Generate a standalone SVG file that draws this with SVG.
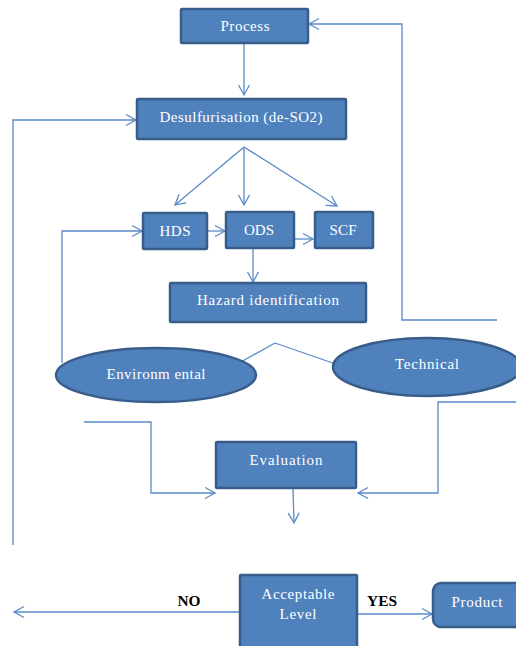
<svg xmlns="http://www.w3.org/2000/svg" width="516" height="646" viewBox="0 0 516 646">
<style>
.box{fill:#4F81BD;stroke:#385D8A;stroke-width:2.5}
.lbl{font-family:"Liberation Serif","Times New Roman",serif;font-size:15px;fill:#fff;text-anchor:middle}
.blk{font-family:"Liberation Serif","Times New Roman",serif;font-size:14px;font-weight:bold;fill:#000;text-anchor:middle}
.c{fill:none;stroke:#5A8AC9;stroke-width:1.3}
.a{marker-end:url(#ar)}
</style>
<defs>
<marker id="ar" markerUnits="userSpaceOnUse" markerWidth="14" markerHeight="14" viewBox="0 0 14 14" refX="11" refY="7" orient="auto">
<path d="M1,1.5 L11,7 L1,12.5" fill="none" stroke="#5A8AC9" stroke-width="1.3"/>
</marker>
</defs>
<rect width="516" height="646" fill="#fff"/>
<g id="connectors">
<path class="c a" d="M244,43 V95"/>
<path class="c a" d="M13,545 V120 H136"/>
<path class="c a" d="M497,320 H402 V24 H309"/>
<path class="c a" d="M244,147 L175,205"/>
<path class="c a" d="M244,147 V205"/>
<path class="c a" d="M244,147 L337,206"/>
<path class="c a" d="M207,231 H225"/>
<path class="c a" d="M294,239 H313"/>
<path class="c a" d="M253,248 V282"/>
<path class="c a" d="M62,363 V231 H142"/>
<path class="c a" d="M275,343 L214,377"/>
<path class="c a" d="M275,343 L353,370"/>
<path class="c a" d="M84,422 H151 V493 H215"/>
<path class="c a" d="M516,402 H438 V493 H358"/>
<path class="c a" d="M293,488 L294,523"/>
<path class="c a" d="M240,612 H14"/>
<path class="c a" d="M357,614 H432"/>
</g>
<g id="process"><rect class="box" x="181" y="9" width="127" height="34" rx="1"/><text class="lbl" x="245" y="31" textLength="49" lengthAdjust="spacing">Process</text></g>
<g id="desulf"><rect class="box" x="137" y="99" width="209" height="40" rx="1"/><text class="lbl" x="241" y="122" textLength="163" lengthAdjust="spacing">Desulfurisation (de-SO2)</text></g>
<g id="hds"><rect class="box" x="143" y="213" width="64" height="36" rx="1"/><text class="lbl" x="175" y="236" textLength="31" lengthAdjust="spacing">HDS</text></g>
<g id="ods"><rect class="box" x="226" y="212" width="68" height="36" rx="1"/><text class="lbl" x="259" y="235" textLength="30" lengthAdjust="spacing">ODS</text></g>
<g id="scf"><rect class="box" x="315" y="212" width="58" height="36" rx="1"/><text class="lbl" x="343" y="235" textLength="27" lengthAdjust="spacing">SCF</text></g>
<g id="hazard"><rect class="box" x="170" y="283" width="196" height="39" rx="1"/><text class="lbl" x="268" y="305" textLength="142" lengthAdjust="spacing">Hazard identification</text></g>
<g id="environmental"><ellipse class="box" cx="156" cy="375" rx="100" ry="27"/><text class="lbl" x="156" y="379" textLength="99" lengthAdjust="spacing">Environm ental</text></g>
<g id="technical"><ellipse class="box" cx="427" cy="367" rx="94" ry="29"/><text class="lbl" x="427" y="369" textLength="64" lengthAdjust="spacing">Technical</text></g>
<g id="evaluation"><rect class="box" x="216" y="442" width="140" height="46" rx="1"/><text class="lbl" x="286" y="465" textLength="73" lengthAdjust="spacing">Evaluation</text></g>
<g id="acceptable"><rect class="box" x="240" y="575" width="117" height="74" rx="1"/><text class="lbl" x="298" y="599" textLength="73" lengthAdjust="spacing">Acceptable</text><text class="lbl" x="298" y="619" textLength="37" lengthAdjust="spacing">Level</text></g>
<g id="product"><rect class="box" x="433" y="583" width="90" height="44" rx="8"/><text class="lbl" x="477" y="607" textLength="51" lengthAdjust="spacing">Product</text></g>
<g id="labels"><text class="blk" x="189" y="606" textLength="23" lengthAdjust="spacingAndGlyphs">NO</text><text class="blk" x="382" y="606" textLength="30" lengthAdjust="spacingAndGlyphs">YES</text></g>
</svg>
